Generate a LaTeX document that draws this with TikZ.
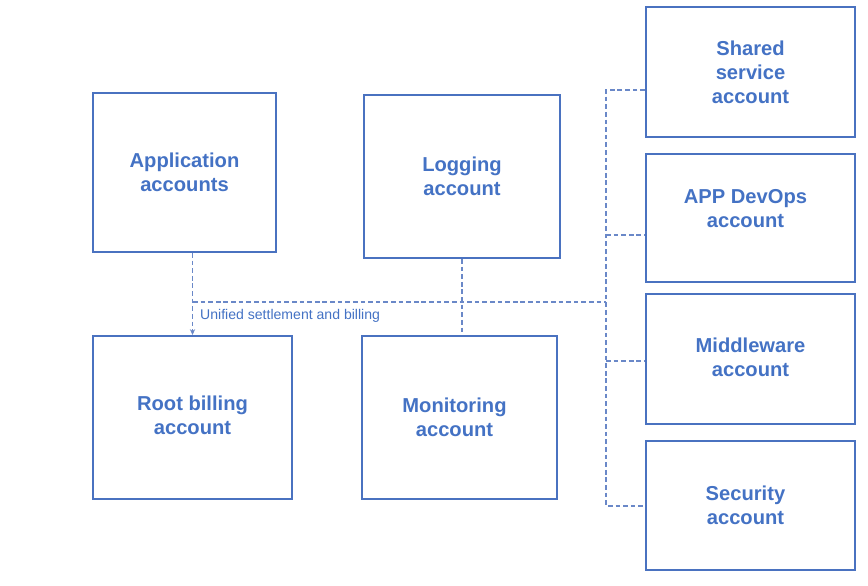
\documentclass[tikz,border=0pt]{standalone}
\usepackage{fontspec}
\setmainfont{Liberation Sans}
\usetikzlibrary{arrows.meta}
\definecolor{boxblue}{HTML}{4A72C0}
\definecolor{txtblue}{HTML}{4472C4}
\definecolor{dashblue}{HTML}{6A88C8}
\tikzset{
  acct/.style={draw=boxblue, line width=1.7pt, inner sep=0pt, align=center,
    text=txtblue, font=\fontsize{17.2}{20.5}\selectfont\bfseries},
  link/.style={draw=dashblue, line width=1pt, dash pattern=on 4pt off 2.5pt},
  note/.style={text=txtblue, font=\fontsize{12}{13}\selectfont, inner sep=0pt, anchor=west}
}
\begin{document}
\begin{tikzpicture}[x=0.03cm, y=-0.03cm]
\useasboundingbox (0,0) rectangle (868,585);
\node[acct, minimum width=5.49cm, minimum height=4.77cm] (app) at (184.5,172.5) {Application\\accounts};
\node[acct, minimum width=5.88cm, minimum height=4.89cm] (log) at (462,176.5) {Logging\\account};
\node[acct, minimum width=5.97cm, minimum height=4.89cm] (root) at (192.5,417.5) {Root billing\\account\\[-17pt]\mbox{}};
\node[acct, minimum width=5.85cm, minimum height=4.89cm] (mon) at (459.5,417.5) {\hspace*{-0.3cm}Monitoring\\account\hspace*{0.3cm}};
\node[acct, minimum width=6.27cm, minimum height=3.9cm] (shared) at (750.5,72) {Shared\\service\\account};
\node[acct, minimum width=6.27cm, minimum height=3.84cm] (devops) at (750.5,218) {\hspace*{-0.3cm}APP DevOps\\\hspace*{-0.3cm}account\\[-4pt]\mbox{}};
\node[acct, minimum width=6.27cm, minimum height=3.9cm] (mid) at (750.5,359) {Middleware\\account\\[-17pt]\mbox{}};
\node[acct, minimum width=6.27cm, minimum height=3.87cm] (sec) at (750.5,505.5) {\hspace*{-0.3cm}Security\\account\hspace*{0.3cm}};

\coordinate (busL) at (193,302);
\coordinate (busR) at (606,302);
\coordinate (trT) at (606,90);
\coordinate (trB) at (606,506);
\coordinate (j1) at (606,235);
\coordinate (j2) at (606,361);

\draw[link, -{Stealth[length=5pt,width=4.5pt]}] (root.north |- app.south) -- (root.north);
\draw[link] (busL) -- (busR);
\draw[link] (log.south) -- (log.south |- mon.north);
\draw[link] (trT -| shared.west) -- (trT) -- (trB) -- (trB -| sec.west);
\draw[link] (j1) -- (j1 -| devops.west);
\draw[link] (j2) -- (j2 -| mid.west);
\node[note] (lbl) at (200,316) {Unified settlement and billing};
\end{tikzpicture}
\end{document}
